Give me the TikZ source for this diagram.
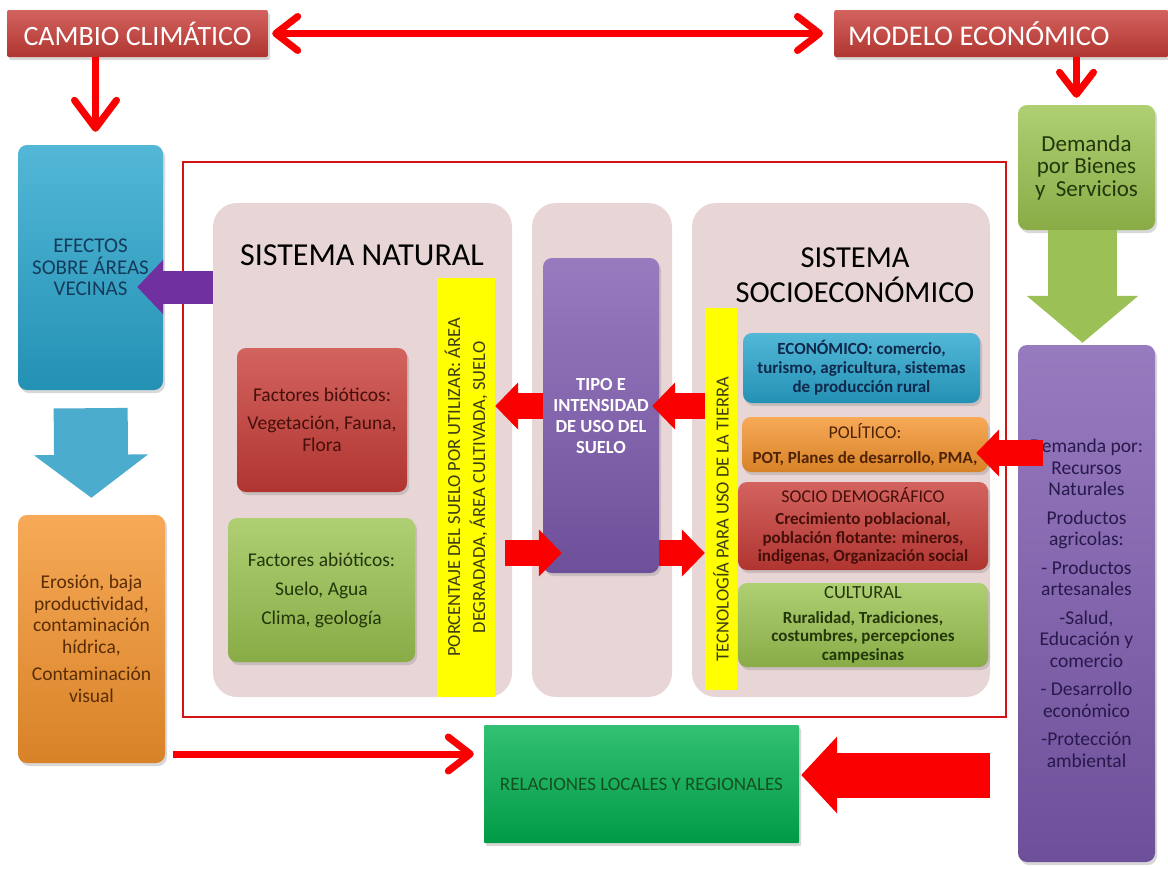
\documentclass[tikz,border=0pt]{standalone}
\usepackage{fontspec}
\setmainfont{Carlito}
\usetikzlibrary{arrows.meta,calc,shadows}
\newcommand{\fsz}[2]{\fontsize{#1}{#2}\selectfont}
\definecolor{boxred}{RGB}{200,60,55}
\definecolor{boxblue}{RGB}{40,165,205}
\definecolor{boxorange}{RGB}{245,148,45}
\definecolor{boxgreen}{RGB}{155,195,80}
\definecolor{boxpurple}{RGB}{125,90,175}
\definecolor{relgreen}{RGB}{0,176,80}
\definecolor{panelpink}{RGB}{232,214,214}
\definecolor{stripyellow}{RGB}{255,255,0}
\definecolor{framered}{RGB}{210,20,20}
\definecolor{arrred}{RGB}{250,0,0}
\definecolor{arrblue}{RGB}{75,172,205}
\definecolor{arrgreen}{RGB}{155,192,85}
\definecolor{arrpurple}{RGB}{112,48,160}
\definecolor{effecttext}{RGB}{20,60,90}
\definecolor{orangetext}{RGB}{90,45,5}
\definecolor{redtext}{RGB}{70,15,10}
\definecolor{greentext}{RGB}{35,55,10}
\definecolor{navytext}{RGB}{15,40,75}
\definecolor{browntext}{RGB}{80,35,5}
\definecolor{purpletext}{RGB}{40,25,75}
\definecolor{reltext}{RGB}{20,80,30}
\definecolor{striptext}{RGB}{60,60,20}
\begin{document}
\begin{tikzpicture}[x=1pt,y=-1pt,
    every node/.style={inner sep=2pt},
    gloss/.style={top color=#1!80!white, bottom color=#1!88!black},
    box/.style={rounded corners=9pt, align=center,
      drop shadow={opacity=0.3,shadow xshift=2pt,shadow yshift=-3pt}},
    panel/.style={rounded corners=24pt, fill=panelpink, minimum height=494pt},
    strip/.style={fill=stripyellow, rotate=90, align=center, text=striptext},
    thin/.style={draw=arrred, line width=7pt},
    barb/.tip={Straight Barb[length=22pt,width=34pt,round]},
    bigbarb/.tip={Straight Barb[length=28pt,width=42pt,round]},
    fat/.style n args={4}{draw=#1, line width=#2, -{Triangle[length=#3,width=#4]}},
    fatred/.style={fat={arrred}{26pt}{23pt}{46pt}}]
  \fill[white] (0,0) rectangle (1168,868);
  \useasboundingbox (0,0) rectangle (1168,868);
  % top row
  \node[box, gloss=boxred, rounded corners=2pt, minimum width=261pt, minimum height=47pt,
    text=white, font=\fsz{28}{30}] (cambio) at (137.5,33.5) {CAMBIO CLIMÁTICO};
  \node[box, gloss=boxred, rounded corners=2pt, anchor=west, minimum width=334pt,
    minimum height=47pt, text=white, font=\fsz{28.5}{30}] (modelo) at (834,33.5)
    {\makebox[306pt][l]{MODELO ECONÓMICO}};
  % left column
  \node[box, gloss=boxblue, minimum width=145pt, minimum height=245pt,
    text=effecttext, font=\fsz{21}{21.5}] (efectos) at (90.5,267.5) {EFECTOS\\SOBRE ÁREAS\\VECINAS};
  \node[box, gloss=boxorange, minimum width=147pt, minimum height=248pt,
    text=orangetext, font=\fsz{19.5}{21.5}] (erosion) at (91.5,639)
    {Erosión, baja\\productividad,\\contaminación\\hídrica,\\[6pt]Contaminación\\visual};
  % frame and panels
  \node[draw=framered, line width=2.5pt, minimum width=823pt, minimum height=555pt] (frame) at (594.5,439.5) {};
  \node[panel, minimum width=299pt] (natural) at (362.5,450) {};
  \node[panel, minimum width=140pt] (uso) at (602,450) {};
  \node[panel, minimum width=298pt] (socio) at (841,450) {};
  \node[font=\fsz{32}{35}] (natitle) at (362,255) {SISTEMA NATURAL};
  \node[font=\fsz{30.5}{35}, align=center] (sotitle) at (855,275.5) {SISTEMA\\SOCIOECONÓMICO};
  % sistema natural
  \node[box, gloss=boxred, minimum width=170pt, minimum height=144pt,
    text=redtext, font=\fsz{19.5}{22}] (bioticos) at (322,420)
    {Factores bióticos:\\[6pt]Vegetación, Fauna,\\Flora};
  \node[box, gloss=boxgreen, minimum width=187pt, minimum height=144pt,
    text=greentext, font=\fsz{19.5}{22}] (abioticos) at (321.5,590)
    {Factores abióticos:\\[7pt]Suelo, Agua\\[7pt]Clima, geología};
  \node[strip, minimum width=419pt, minimum height=58pt, font=\fsz{18.5}{25}] (porcentaje) at (466,487.5)
    {PORCENTAJE DEL SUELO POR UTILIZAR: ÁREA\\DEGRADADA, ÁREA CULTIVADA, SUELO};
  % uso del suelo
  \node[box, gloss=boxpurple, minimum width=116pt, minimum height=315pt,
    text=white, font=\bfseries\fsz{18.5}{21}] (tipo) at (601,415.5)
    {TIPO E\\INTENSIDAD\\DE USO DEL\\SUELO};
  % sistema socioeconomico
  \node[strip, minimum width=382pt, minimum height=32pt, font=\fsz{18.5}{22}] (tecnologia) at (721,499)
    {TECNOLOGÍA PARA USO DE LA TIERRA\hspace*{40pt}};
  \node[box, gloss=boxblue, minimum width=237pt, minimum height=70pt,
    text=navytext, font=\bfseries\fsz{17}{19}] (economico) at (861.5,368)
    {ECONÓMICO: comercio,\\turismo, agricultura, sistemas\\de producción rural};
  \node[box, gloss=boxorange, minimum width=246pt, minimum height=55pt,
    text=browntext, font=\bfseries\fsz{17}{19}] (politico) at (865,444.5)
    {{\mdseries\fsz{18}{18}POLÍTICO:}\\[6pt]POT, Planes de desarrollo, PMA,};
  \node[box, gloss=boxred, minimum width=250pt, minimum height=88pt,
    text=redtext, font=\bfseries\fsz{17}{18.5}] (demografico) at (863,526)
    {{\mdseries\fsz{18}{18}SOCIO DEMOGRÁFICO}\\[4pt]Crecimiento poblacional,\\población flotante: mineros,\\indigenas, Organización social};
  \node[box, gloss=boxgreen, minimum width=250pt, minimum height=84pt,
    text=greentext, font=\bfseries\fsz{17}{18.5}] (cultural) at (863,625)
    {{\mdseries\fsz{18.5}{18}CULTURAL}\\[6pt]Ruralidad, Tradiciones,\\costumbres, percepciones\\campesinas};
  % right column
  \node[box, gloss=boxgreen, minimum width=137pt, minimum height=125pt,
    text=greentext, font=\fsz{23}{22.5}] (demanda) at (1086.5,167.5) {Demanda\\por Bienes\\y~~Servicios};
  \node[box, gloss=boxpurple, minimum width=137pt, minimum height=517pt,
    text=purpletext, font=\fsz{19.5}{21.5}] (demandapor) at (1086.5,603.5)
    {Demanda por:\\Recursos\\Naturales\\[7pt]Productos\\agricolas:\\[7pt]- Productos\\artesanales\\[7pt]-Salud,\\Educación y\\comercio\\[7pt]- Desarrollo\\económico\\[7pt]-Protección\\ambiental};
  % bottom
  \node[box, gloss=relgreen, rounded corners=1pt, minimum width=315pt, minimum height=118pt,
    text=reltext, font=\fsz{19}{21}] (relaciones) at (641.5,784) {RELACIONES LOCALES Y REGIONALES};
  % thin arrows
  \draw[thin, barb-barb, shorten <=4pt, shorten >=11pt] (cambio) -- (modelo);
  \draw[thin, -bigbarb, shorten >=13pt] ($(efectos.north |- cambio.south)+(5,0)$) -- ($(efectos.north)+(5,0)$);
  \draw[thin, -barb, shorten >=7pt] ($(demanda.north |- modelo.south)+(-10,0)$) -- ($(demanda.north)+(-10,0)$);
  \coordinate (erosout) at ($(erosion.east)+(8,115)$);
  \draw[thin, -barb, shorten >=10pt] (erosout) -- (erosout -| relaciones.west);
  % block arrows
  \draw[fat={arrblue}{74pt}{43pt}{112pt}, shorten <=18pt, shorten >=17pt] (efectos.south) -- (erosion.north);
  \draw[fat={arrgreen}{69pt}{47pt}{109pt}, shorten >=2pt] ($(demanda.south)+(-4,0)$) -- ($(demandapor.north)+(-4,0)$);
  \draw[fat={arrpurple}{33pt}{26pt}{53pt}] (natural.west |- 0,287) -- ($(efectos.east |- 0,287)+(-26,0)$);
  \draw[fatred] (tipo.west |- 0,406) -- (porcentaje.south |- 0,406);
  \draw[fatred, shorten >=-7pt] (tecnologia.north |- 0,406) -- (tipo.east |- 0,406);
  \draw[fatred, shorten <=10pt, shorten >=-19pt] (porcentaje.south |- 0,553) -- (tipo.west |- 0,553);
  \draw[fatred] (tipo.east |- 0,553) -- (tecnologia.north |- 0,553);
  \draw[fatred, shorten >=-12pt] ($(demandapor.west |- 0,453)+(25,0)$) -- (politico.east |- 0,453);
  \coordinate (relin) at (990,775);
  \draw[fat={arrred}{45pt}{36pt}{75pt}, shorten >=2pt] (relin) -- (relaciones.east |- relin);
\end{tikzpicture}
\end{document}
